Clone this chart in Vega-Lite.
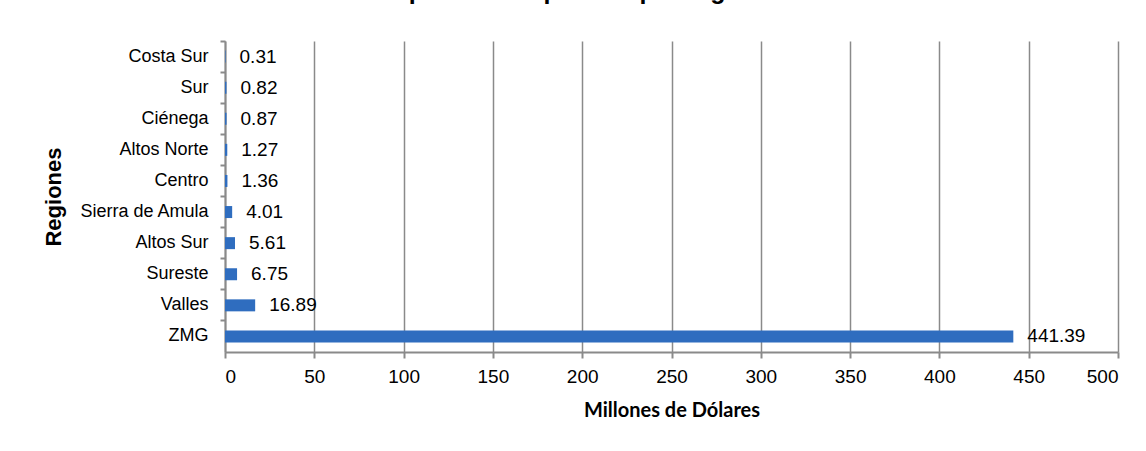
{
  "$schema": "https://vega.github.io/schema/vega-lite/v6.json",
  "width": 893,
  "height": 311,
  "autosize": {"type": "none"},
  "padding": {"left": 225, "top": 41, "right": 28, "bottom": 99},
  "background": "white",
  "config": {
    "view": {"stroke": null},
    "font": "Liberation Sans"
  },
  "title": {
    "text": "Gráfica 3. Inversión productiva privada por regiones de Jalisco 2010",
    "fontSize": 25,
    "fontWeight": "bold",
    "font": "Liberation Sans",
    "color": "black",
    "anchor": "middle",
    "offset": 36,
    "dx": -96
  },
  "data": {
    "values": [
      {"region": "Costa Sur", "valor": 0.31},
      {"region": "Sur", "valor": 0.82},
      {"region": "Ciénega", "valor": 0.87},
      {"region": "Altos Norte", "valor": 1.27},
      {"region": "Centro", "valor": 1.36},
      {"region": "Sierra de Amula", "valor": 4.01},
      {"region": "Altos Sur", "valor": 5.61},
      {"region": "Sureste", "valor": 6.75},
      {"region": "Valles", "valor": 16.89},
      {"region": "ZMG", "valor": 441.39}
    ]
  },
  "encoding": {
    "y": {
      "field": "region",
      "type": "nominal",
      "sort": null,
      "scale": {"paddingInner": 0, "paddingOuter": 0},
      "axis": {
        "title": "Regiones",
        "titleFontSize": 22,
        "titleFontWeight": "bold",
        "titleColor": "black",
        "titlePadding": 13,
        "labelFontSize": 18,
        "labelColor": "black",
        "labelPadding": 12,
        "tickSize": 5,
        "bandPosition": 0,
        "domainColor": "#8a8a8a",
        "domainWidth": 2,
        "tickColor": "#8a8a8a",
        "tickWidth": 2,
        "grid": false
      }
    },
    "x": {
      "field": "valor",
      "type": "quantitative",
      "scale": {"domain": [0, 500], "nice": false},
      "axis": {
        "title": "Millones de Dólares",
        "titleFont": "Lato",
        "titleFontSize": 20,
        "titleFontWeight": "bold",
        "titleColor": "black",
        "titlePadding": 14,
        "values": [0, 50, 100, 150, 200, 250, 300, 350, 400, 450, 500],
        "labelFontSize": 19,
        "labelColor": "black",
        "labelPadding": 9,
        "tickSize": 6,
        "domainColor": "#8a8a8a",
        "domainWidth": 2,
        "tickColor": "#8a8a8a",
        "tickWidth": 2,
        "grid": true,
        "gridColor": "#8a8a8a",
        "gridWidth": 1.5,
        "gridOpacity": 1
      }
    }
  },
  "layer": [
    {
      "mark": {"type": "bar", "height": 12, "color": "#2F6DBF"}
    },
    {
      "mark": {"type": "text", "align": "left", "baseline": "middle", "dx": 14, "fontSize": 19, "color": "black"},
      "encoding": {
        "text": {"field": "valor", "type": "quantitative", "format": ".2f"}
      }
    }
  ]
}
